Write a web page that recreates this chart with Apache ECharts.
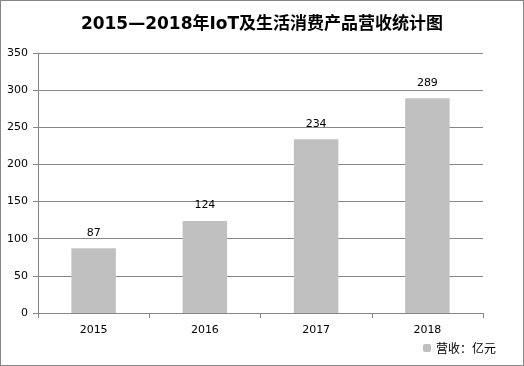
<!DOCTYPE html>
<html><head><meta charset="utf-8">
<script src="https://cdn.jsdelivr.net/npm/echarts@6/dist/echarts.min.js"></script>
<style>html,body{margin:0;padding:0;background:#fff}#c{width:524px;height:366px;box-sizing:border-box;border:1px solid #868686}</style>
</head><body><div id="c"></div>
<script>
const titleText = '2015—2018年IoT及生活消费产品营收统计图';
const categories = ['2015', '2016', '2017', '2018'];
const revenue = [87, 124, 234, 289];
const seriesName = '营收：亿元';

const chart = echarts.init(document.getElementById('c'));
chart.setOption({
  animation: false,
  title: { text: titleText, left: 'center', top: 10,
    textStyle: { fontSize: 17, fontWeight: 'bold', color: '#000', fontFamily: 'DejaVu Sans, Noto Sans CJK SC' } },
  legend: { data: [seriesName], right: 22, bottom: 6, itemWidth: 8, itemHeight: 8, itemGap: 5,
    textStyle: { fontSize: 12, color: '#000', fontFamily: 'Noto Sans CJK SC' } },
  grid: { left: 37, right: 40, top: 52, bottom: 52, containLabel: false },
  xAxis: { type: 'category', data: categories,
    axisLine: { lineStyle: { color: '#868686' } },
    axisTick: { show: true, alignWithLabel: false, length: 5, lineStyle: { color: '#868686' } },
    axisLabel: { color: '#000', fontSize: 11, margin: 12, fontFamily: 'DejaVu Sans' } },
  yAxis: { type: 'value', min: 0, max: 350, interval: 50,
    axisLine: { show: true, lineStyle: { color: '#868686' } },
    axisTick: { show: true, length: 5, lineStyle: { color: '#868686' } },
    splitLine: { lineStyle: { color: '#868686' } },
    axisLabel: { color: '#000', fontSize: 11, margin: 10, fontFamily: 'DejaVu Sans' } },
  series: [{ name: seriesName, type: 'bar', data: revenue, barWidth: '40%',
    itemStyle: { color: '#C0C0C0' },
    label: { show: true, position: 'top', distance: 10, color: '#000', fontSize: 11, fontFamily: 'DejaVu Sans' } }]
});
</script></body></html>
